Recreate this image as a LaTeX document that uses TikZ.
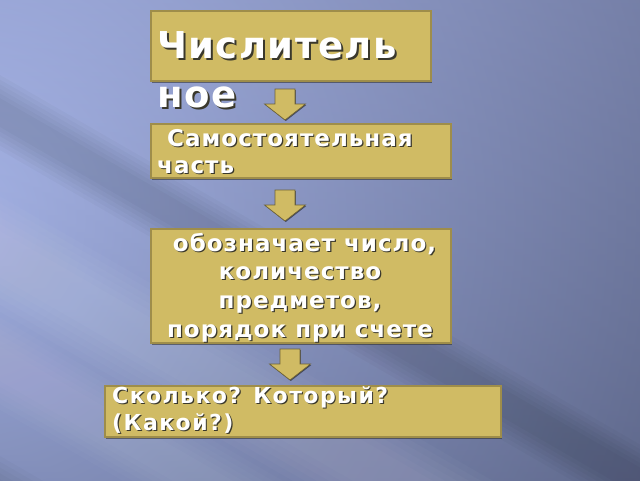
\documentclass[tikz,border=0pt]{standalone}
\usepackage{fontspec}
\setmainfont{DejaVu Sans}
\newfontfamily\spaced[LetterSpace=4.5]{DejaVu Sans}
\newfontfamily\spacedw[LetterSpace=6.5]{DejaVu Sans}
\newfontfamily\spacedt[LetterSpace=4]{DejaVu Sans}
\usetikzlibrary{shadows}
\definecolor{boxfill}{HTML}{D0BB64}
\definecolor{boxline}{HTML}{9E8D4A}
\definecolor{arrline}{HTML}{6E6234}
\definecolor{bgLight}{HTML}{B8C8FF}
\definecolor{bgDark}{HTML}{4A5270}
\definecolor{bgTop}{HTML}{8890BC}
\definecolor{bgBot}{HTML}{343A54}
\definecolor{txtsh}{HTML}{3A382C}
\newcommand\shtxt[2][1.2pt]{\rlap{\kern#1\lower#1\hbox{\color{txtsh}#2}}#2}
\newcommand\linesL[1]{\vtop{\halign{##\hfil\cr#1\crcr}}}
\newcommand\linesC[1]{\vtop{\halign{\hfil##\hfil\cr#1\crcr}}}
\tikzset{
  box/.style={draw=boxline, line width=1.5pt, fill=boxfill, inner sep=0pt,
    anchor=north west, drop shadow={shadow xshift=1.5pt, shadow yshift=-1.8pt, opacity=0.6, fill=black!80}},
  txt/.style={text=white, inner sep=0pt, anchor=base west},
  arrshape/.style={fill=boxfill, draw=arrline, line width=0.6pt, line join=miter,
    drop shadow={shadow xshift=0.8pt, shadow yshift=-1pt, opacity=0.5, fill=black}},
  pics/downarr/.style={code={
    \path[arrshape] (-10,0) -- (10,0) -- (10,15) -- (20.5,15) -- (0,31) -- (-20.5,15) -- (-10,15) -- cycle;
  }}
}
\begin{document}
\begin{tikzpicture}[x=1pt,y=-1pt]
\useasboundingbox (0,0) rectangle (640,480);
% background
\begin{scope}
  \clip (0,0) rectangle (640,480);
  \fill[bgDark] (0,0) rectangle (640,480);
  \shade[inner color=bgLight, outer color=bgDark] (-50,220) circle (1100);
  \shade[top color=bgTop, bottom color=bgBot, opacity=0.25] (0,0) rectangle (640,480);
  \begin{scope}[rotate around={-30:(0,0)}]
    \foreach \i in {0,...,5}{
      \fill[white, opacity=0.025] (-300,{200-6*\i}) rectangle (1000,{240+6*\i});
      \fill[black, opacity=0.025] (-300,{85-4*\i}) rectangle (1000,{110+4*\i});
      \fill[white, opacity=0.02] (-300,{300-5*\i}) rectangle (1000,{330+5*\i});
      \fill[black, opacity=0.02] (-300,{420-5*\i}) rectangle (1000,{450+5*\i});
    }
  \end{scope}
\end{scope}
% boxes
\node[box, minimum width=280pt, minimum height=70pt] (b1) at (150,10) {};
\node[box, minimum width=300pt, minimum height=54pt] (b2) at (150,123) {};
\node[box, minimum width=300pt, minimum height=114pt] (b3) at (150,228) {};
\node[box, minimum width=396pt, minimum height=51pt] (b4) at (104,385) {};
% arrows
\coordinate (a1) at (285,89);
\coordinate (a2) at (285,190);
\coordinate (a3) at (290,349);
\pic at (a1) {downarr};
\pic at (a2) {downarr};
\pic at (a3) {downarr};
% texts
\node[txt, font=\fontsize{37}{49}\spacedt\bfseries\selectfont] (t1) at (157,58)
  {\shtxt[2pt]{\linesL{Числитель\cr ное}}};
\node[txt, font=\fontsize{23}{27}\spaced\bfseries\selectfont] (t2) at (157,146)
  {\shtxt{\linesL{\kern10pt Самостоятельная\cr часть}}};
\node[txt, anchor=base, font=\fontsize{23}{28.7}\spaced\bfseries\selectfont] (t3) at (300,251)
  {\shtxt{\linesC{\ обозначает число,\cr количество\cr предметов,\cr порядок при счете}}};
\node[txt, font=\fontsize{22}{27}\spacedw\bfseries\selectfont] (t4) at (112,403)
  {\shtxt{\linesL{Сколько? Который?\cr (Какой?)}}};
\end{tikzpicture}
\end{document}
